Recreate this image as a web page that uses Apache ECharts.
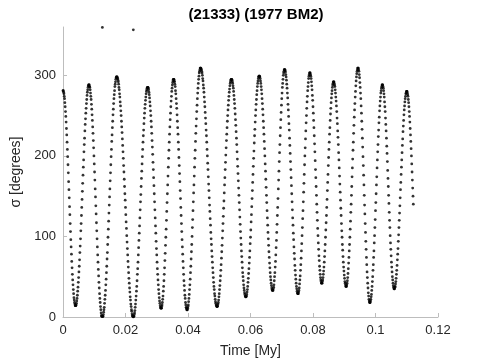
<!DOCTYPE html>
<html>
<head>
<meta charset="utf-8">
<script src="https://cdn.jsdelivr.net/npm/echarts@6/dist/echarts.min.js"></script>
<style>
  html, body { margin: 0; padding: 0; background: #fff; }
  #chart { width: 485px; height: 363px; }
</style>
</head>
<body>
<div id="chart"></div>
<script>
// output step of the integration, in My
const timeStep = 0.0001;

// resonant angle sigma [deg], one value per output step
const sigmaA = [
  281,281,279,277,274,271,266,261,255,249,242,234,226,217,208,199,189,179,168,158,148,137,127,116,106,96,87,78,69,61,53,46,40,34,29,24,21,18,16,14,14,
  14,15,17,20,23,27,32,37,43,49,56,63,71,80,88,97,107,116,126,136,146,156,166,176,186,195,205,214,222,231,239,246,253,259,265,270,275,279,282,285,287,288,288,
  288,286,285,282,278,274,270,264,258,251,244,236,228,219,210,200,190,180,170,159,149,138,128,117,107,97,87,77,68,59,51,43,36,29,23,18,13,9,5,2,1,0.5,359.5,
  0.4,1,3,6,9,12,17,22,27,33,40,47,55,63,72,80,90,99,109,119,129,139,149,159,169,179,189,199,208,218,226,235,243,251,258,265,271,276,281,286,289,292,295,297,298,298,
  298,297,296,294,292,289,285,282,277,273,267,262,256,250,243,236,229,221,213,205,197,188,180,171,162,153,145,136,127,118,110,101,93,85,77,69,62,55,48,42,36,31,25,21,16,13,9,7,4,2,1,0.3,356.5,
  0.3,1,3,5,8,12,16,21,26,32,38,45,53,60,68,77,86,95,104,113,123,133,143,152,162,172,181,190,199,208,217,225,232,240,247,253,259,264,269,273,277,280,282,284,285,285,
  285,284,282,279,276,272,267,262,256,250,243,236,228,219,211,202,192,183,173,163,153,143,133,123,113,104,94,85,77,68,60,53,46,40,34,29,24,20,17,14,12,11,11
];
const sigmaB = [
  11,13,15,18,22,26,32,38,45,53,61,70,79,89,99,109,120,131,142,153,164,175,186,197,207,217,227,236,245,253,261,268,274,280,284,288,291,293,295,295,
  295,293,292,289,286,281,277,271,265,259,251,243,235,227,217,208,198,188,178,168,157,147,136,126,116,106,96,87,78,69,61,53,45,39,33,27,23,18,15,12,11,9,9,
  9,11,13,15,19,23,28,34,40,47,55,63,72,81,90,100,111,121,132,143,154,164,175,186,197,207,218,228,237,246,255,263,271,278,284,290,295,299,303,305,307,309,309,
  309,308,307,305,303,300,296,293,288,284,279,273,267,261,254,247,240,232,225,217,208,200,191,183,174,165,157,148,139,131,122,114,105,97,90,82,75,68,61,55,49,43,38,34,29,26,22,19,17,15,14,13,13,
  13,14,16,18,21,25,29,34,39,45,51,58,65,73,81,89,98,107,116,125,135,144,154,164,173,183,192,201,210,219,227,235,243,250,257,263,269,274,279,283,287,290,292,294,295,295,
  295,294,292,290,287,284,280,275,270,265,259,252,245,238,230,222,214,205,196,187,178,169,160,151,142,133,124,115,106,98,90,82,75,68,61,55,50,45,40,36,33,30,28,26,25,25,
  25,26,28,31,34,38,43,48,54,60,67,74,82,91,99,108,118,127,137,147,157,167,177,187,197,206,216,225,233,242,250,257,264,270,276,281,286,290,293,296,298,299,299
];
const sigmaC = [
  299,298,296,293,290,286,282,277,271,265,258,251,243,235,227,218,209,200,190,181,171,161,151,142,132,123,114,105,97,89,81,74,67,61,55,50,46,42,39,36,34,33,33,
  33,35,37,40,45,50,55,62,69,77,86,95,105,115,126,136,147,159,170,181,193,204,214,225,235,245,254,263,271,278,285,290,295,300,303,305,307,307,
  307,306,304,301,298,294,289,284,278,272,264,257,249,240,232,222,213,203,193,183,173,163,153,143,133,123,114,104,96,87,79,72,64,58,52,47,42,38,35,32,30,29,29,
  29,31,33,36,41,46,51,58,65,73,82,91,101,111,122,132,143,155,166,177,189,200,210,221,231,241,250,259,267,274,281,286,291,296,299,301,303,303,
  303,301,299,296,292,287,282,275,269,261,253,244,235,225,215,205,194,183,173,162,151,140,130,120,110,101,92,84,76,70,63,58,53,49,46,44,42,42,
  42,44,46,49,53,57,62,68,75,82,90,99,108,117,126,136,146,157,167,177,188,198,208,217,227,235,244,252,259,266,272,277,281,285,288,290,292,292,
  292,290,288,286,282,278,273,268,262,255,247,240,231,223,214,204,195,185,175,165,155,145,135,126,116,107,99,90,83,75,68,62,57,52,48,44,42,40,38,38
];
const sigmaD = [
  38,40,42,45,49,54,60,67,74,82,90,99,109,119,130,140,151,162,174,185,196,207,217,228,238,248,257,265,273,280,287,293,298,302,305,307,309,309,
  309,307,305,301,297,291,285,278,271,262,253,243,233,222,211,199,188,176,164,151,139,128,116,105,94,84,74,65,56,49,42,36,30,26,22,20,18,18,
  18,20,22,25,28,33,38,44,50,58,65,74,82,92,101,111,121,132,142,153,164,174,185,195,205,214,224,232,241,248,256,262,268,273,278,281,284,286,288,288,
  288,286,284,281,277,273,267,261,255,247,239,231,222,212,203,193,182,172,162,151,141,130,120,111,101,92,84,76,68,62,56,50,46,42,39,37,35,35,
  35,37,38,41,44,48,53,58,64,71,78,85,94,102,111,120,129,138,148,158,167,177,186,195,204,213,221,230,237,244,251,257,262,267,271,274,277,278,280,280,
  280,278,276,274,270,266,261,255,249,242,234,226,218,209,200,190,180,170,160,150,140
];

const xTicks = [0, 0.02, 0.04, 0.06, 0.08, 0.1, 0.12];
const yTicks = [0, 100, 200, 300];

const sigma = [].concat(sigmaA, sigmaB, sigmaC, sigmaD);
const points = sigma.map((v, i) => [+(i * timeStep).toFixed(5), v]);

const axisGrey = '#bdbdbd';
const textDark = '#262626';
const font = 'Liberation Sans, Arial, Helvetica, sans-serif';

const chart = echarts.init(document.getElementById('chart'));
chart.setOption({
  animation: false,
  title: {
    text: '(21333) (1977 BM2)',
    left: 251,
    top: 2,
    textAlign: 'center',
    textStyle: { fontFamily: font, fontSize: 15, fontWeight: 'bold', color: '#000' },
  },
  grid: { left: 63, right: 47, top: 27, bottom: 46 },
  xAxis: {
    type: 'value',
    min: 0,
    max: 0.12,
    name: 'Time [My]',
    nameLocation: 'middle',
    nameGap: 27,
    nameTextStyle: { fontFamily: font, fontSize: 14, color: textDark },
    axisLine: { lineStyle: { color: axisGrey, width: 1 } },
    axisTick: { inside: true, length: 4, customValues: xTicks, lineStyle: { color: axisGrey } },
    axisLabel: {
      customValues: xTicks,
      margin: 7,
      fontFamily: font,
      fontSize: 13,
      color: textDark,
      formatter: (v) => String(v),
    },
    splitLine: { show: false },
  },
  yAxis: {
    type: 'value',
    min: 0,
    max: 360,
    name: 'σ [degrees]',
    nameLocation: 'middle',
    nameGap: 35,
    nameTextStyle: { fontFamily: font, fontSize: 14, color: textDark },
    axisLine: { show: true, lineStyle: { color: axisGrey, width: 1 } },
    axisTick: { show: true, inside: true, length: 4, customValues: yTicks, lineStyle: { color: axisGrey } },
    axisLabel: { customValues: yTicks, margin: 7, fontFamily: font, fontSize: 13, color: textDark },
    splitLine: { show: false },
  },
  series: [
    {
      type: 'scatter',
      data: points,
      symbol: 'circle',
      symbolSize: 2.8,
      itemStyle: { color: '#000' },
      silent: true,
    },
  ],
});
</script>
</body>
</html>
